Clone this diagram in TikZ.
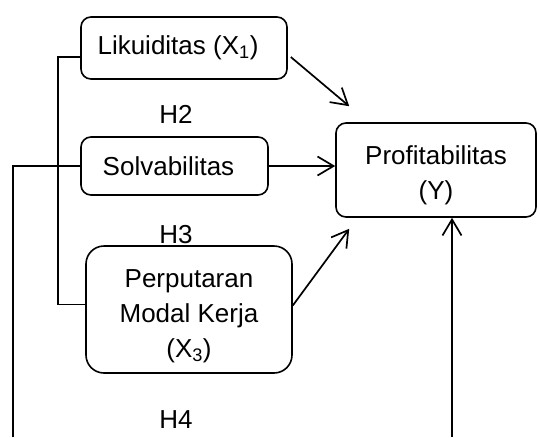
\documentclass[tikz,border=0pt]{standalone}
\usepackage{fontspec}
\setmainfont{Liberation Sans}
\usetikzlibrary{arrows.meta}

\begin{document}
\begin{tikzpicture}[x=1pt,y=-1pt,
    box/.style={draw,line width=1.6pt,rounded corners=10pt,align=center,
      inner sep=0pt,font=\fontsize{26}{35}\selectfont},
    lbl/.style={font=\fontsize{26}{30}\selectfont},
    arr/.style={line width=1.7pt,-{Straight Barb[length=16pt,width=19pt,line width=1.7pt]}},
    lin/.style={line width=1.6pt}]
  \useasboundingbox (0,0) rectangle (540,437);
  \node[box,minimum width=206pt,minimum height=62pt] (lik) at (184,48) {Likuiditas (X\textsubscript{1})\hspace{12pt}};
  \node[box,minimum width=187pt,minimum height=58pt] (solv) at (174.5,166) {Solvabilitas\hspace{12pt}};
  \node[box,rounded corners=18pt,minimum width=206pt,minimum height=127pt] (perp) at (189,309.5)
    {\rule{0pt}{31pt}Perputaran\\Modal Kerja\\(X\textsubscript{3})};
  \node[box,minimum width=200pt,minimum height=94pt] (prof) at (436,170) {\rule{0pt}{29pt}Profitabilitas\\(Y)};
  \node[lbl] (h2) at (176,114) {H2};
  \node[lbl] (h3) at (176,235) {H3};
  \node[lbl] (h4) at (176,420) {H4};
  \coordinate (x4) at (13,437);
  \coordinate (y4) at (452,437);
  \draw[lin] ([yshift=-9pt]lik.west) -- ++(-22,0) |- ([yshift=5pt]perp.west);
  \draw[lin] (solv.west) -| (x4);
  \draw[arr] ([xshift=3pt,yshift=-9pt]lik.east) -- ([xshift=14pt,yshift=16pt]prof.north west);
  \draw[arr] (solv.east) -- (solv.east -| prof.west);
  \draw[arr] ([yshift=4pt]perp.east) -- ([xshift=14pt,yshift=-11pt]prof.south west);
  \draw[arr] (y4) -- (y4 |- prof.south);
\end{tikzpicture}
\end{document}
